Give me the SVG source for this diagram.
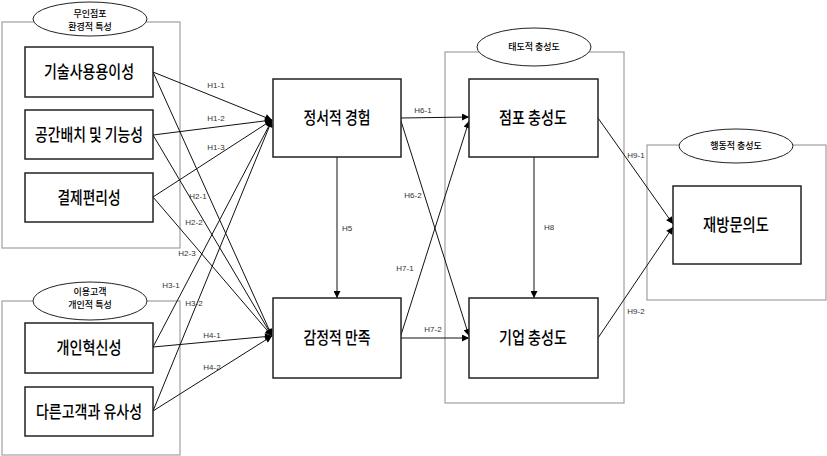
<svg xmlns="http://www.w3.org/2000/svg" width="827" height="456" viewBox="0 0 827 456">
<defs>
<marker id="arr" viewBox="0 0 10 10" refX="10" refY="5" markerWidth="8" markerHeight="7" orient="auto" markerUnits="userSpaceOnUse">
<path d="M0,0 L10,5 L0,10 Z" fill="#000"/>
</marker>
<style>
.grp{fill:none;stroke:#a0a0a0;stroke-width:1.2}
.ell{fill:#fff;stroke:#222;stroke-width:1}
.box{fill:#fff;stroke:#222;stroke-width:1.5}
.nt{font-family:"Noto Sans CJK KR","Noto Sans",sans-serif;font-size:17px;font-weight:500;fill:#000;text-anchor:middle}
.st{font-family:"Noto Sans CJK KR","Noto Sans",sans-serif;font-size:9px;font-weight:500;fill:#000;text-anchor:middle}
.lb{font-family:"Liberation Sans",Arial,sans-serif;font-size:8px;fill:#333;text-anchor:middle}
.ln{fill:none;stroke:#111;stroke-width:1;marker-end:url(#arr)}
</style>
</defs>
<rect width="827" height="456" fill="#fff"/>

<g id="group-env">
<rect class="grp" x="2" y="22" width="178" height="226"/>
<ellipse class="ell" cx="90" cy="19" rx="57" ry="17"/>
<text class="st" x="90" y="17">무인점포</text>
<text class="st" x="90" y="30">환경적 특성</text>
</g>
<g id="group-cust">
<rect class="grp" x="2" y="301" width="178" height="154"/>
<ellipse class="ell" cx="90" cy="301" rx="57" ry="19"/>
<text class="st" x="90" y="295">이용고객</text>
<text class="st" x="90" y="308">개인적 특성</text>
</g>
<g id="group-att">
<rect class="grp" x="445" y="52" width="179" height="351"/>
<ellipse class="ell" cx="534" cy="47" rx="57" ry="19"/>
<text class="st" x="534" y="50">태도적 충성도</text>
</g>
<g id="group-beh">
<rect class="grp" x="647" y="145" width="179" height="155"/>
<ellipse class="ell" cx="736" cy="146" rx="57" ry="17"/>
<text class="st" x="736" y="149">행동적 충성도</text>
</g>

<g id="connectors">
<line class="ln" x1="153" y1="72" x2="272" y2="120"/>
<line class="ln" x1="153" y1="135" x2="272" y2="120"/>
<line class="ln" x1="153" y1="197" x2="272" y2="120"/>
<line class="ln" x1="153" y1="347" x2="272" y2="120"/>
<line class="ln" x1="153" y1="411" x2="272" y2="120"/>
<line class="ln" x1="153" y1="72" x2="272" y2="336"/>
<line class="ln" x1="153" y1="135" x2="272" y2="336"/>
<line class="ln" x1="153" y1="197" x2="272" y2="336"/>
<line class="ln" x1="153" y1="347" x2="272" y2="336"/>
<line class="ln" x1="153" y1="411" x2="272" y2="336"/>
<line class="ln" x1="337" y1="157" x2="337" y2="298"/>
<line class="ln" x1="401" y1="118" x2="469" y2="117"/>
<line class="ln" x1="401" y1="121" x2="469" y2="336"/>
<line class="ln" x1="401" y1="335" x2="469" y2="121"/>
<line class="ln" x1="401" y1="338" x2="469" y2="338"/>
<line class="ln" x1="534" y1="157" x2="534" y2="298"/>
<line class="ln" x1="598" y1="118" x2="673" y2="224"/>
<line class="ln" x1="598" y1="338" x2="673" y2="227"/>
<text class="lb" x="216" y="88">H1-1</text>
<text class="lb" x="216" y="121">H1-2</text>
<text class="lb" x="216" y="150">H1-3</text>
<text class="lb" x="198" y="199">H2-1</text>
<text class="lb" x="194" y="225">H2-2</text>
<text class="lb" x="187" y="256">H2-3</text>
<text class="lb" x="171" y="288">H3-1</text>
<text class="lb" x="194" y="306">H3-2</text>
<text class="lb" x="212" y="338">H4-1</text>
<text class="lb" x="212" y="370">H4-2</text>
<text class="lb" x="347" y="231">H5</text>
<text class="lb" x="423" y="113">H6-1</text>
<text class="lb" x="413" y="198">H6-2</text>
<text class="lb" x="405" y="271">H7-1</text>
<text class="lb" x="433" y="332">H7-2</text>
<text class="lb" x="549" y="230">H8</text>
<text class="lb" x="636" y="158">H9-1</text>
<text class="lb" x="636" y="314">H9-2</text>
</g>

<g id="n-tech"><rect class="box" x="25" y="47" width="128" height="50"/><text class="nt" x="89" y="78" textLength="90" lengthAdjust="spacingAndGlyphs">기술사용용이성</text></g>
<g id="n-space"><rect class="box" x="25" y="110" width="128" height="49"/><text class="nt" x="89" y="141" textLength="108" lengthAdjust="spacingAndGlyphs">공간배치 및 기능성</text></g>
<g id="n-pay"><rect class="box" x="25" y="173" width="128" height="49"/><text class="nt" x="89" y="204" textLength="63" lengthAdjust="spacingAndGlyphs">결제편리성</text></g>
<g id="n-innov"><rect class="box" x="25" y="323" width="128" height="50"/><text class="nt" x="89" y="354" textLength="65" lengthAdjust="spacingAndGlyphs">개인혁신성</text></g>
<g id="n-sim"><rect class="box" x="25" y="387" width="128" height="49"/><text class="nt" x="89" y="418" textLength="106" lengthAdjust="spacingAndGlyphs">다른고객과 유사성</text></g>
<g id="n-emo"><rect class="box" x="273" y="79" width="128" height="78"/><text class="nt" x="337" y="124" textLength="67" lengthAdjust="spacingAndGlyphs">정서적 경험</text></g>
<g id="n-sat"><rect class="box" x="273" y="298" width="128" height="80"/><text class="nt" x="337" y="344" textLength="67" lengthAdjust="spacingAndGlyphs">감정적 만족</text></g>
<g id="n-store"><rect class="box" x="469" y="79" width="129" height="78"/><text class="nt" x="533" y="124" textLength="68" lengthAdjust="spacingAndGlyphs">점포 충성도</text></g>
<g id="n-corp"><rect class="box" x="469" y="298" width="129" height="80"/><text class="nt" x="533" y="344" textLength="68" lengthAdjust="spacingAndGlyphs">기업 충성도</text></g>
<g id="n-revisit"><rect class="box" x="673" y="186" width="128" height="78"/><text class="nt" x="736" y="231" textLength="66" lengthAdjust="spacingAndGlyphs">재방문의도</text></g>
</svg>
